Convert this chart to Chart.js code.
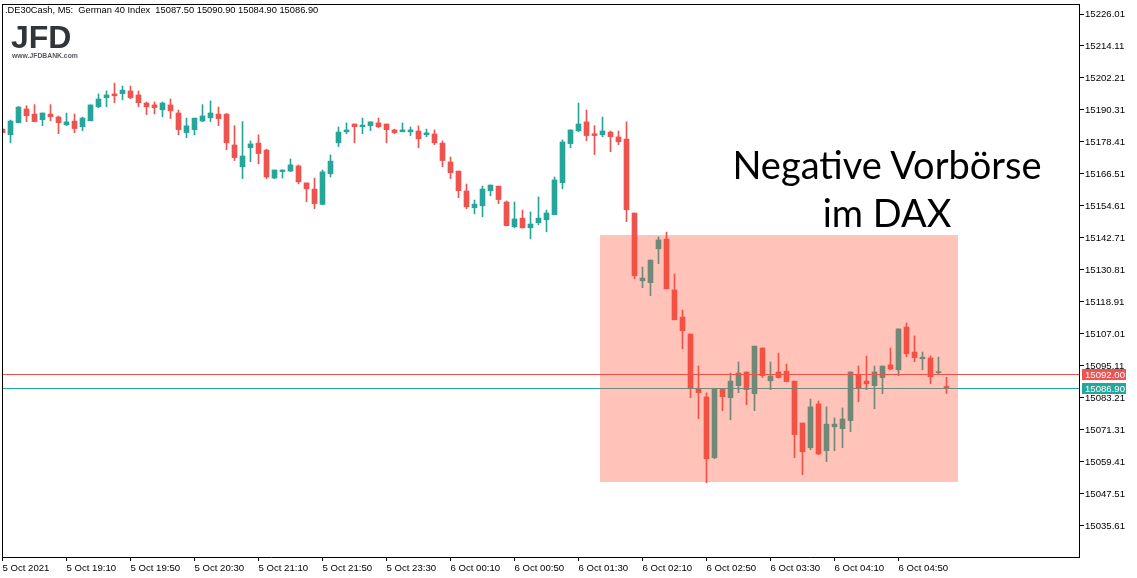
<!DOCTYPE html>
<html>
<head>
<meta charset="utf-8">
<script src="https://cdn.jsdelivr.net/npm/chart.js@4.4.1/dist/chart.umd.min.js"></script>
<style>
html,body{margin:0;padding:0;background:#fff;}
#wrap{position:relative;width:1137px;height:578px;overflow:hidden;background:#fff;}
#c{position:absolute;left:0;top:0;}
.t{position:absolute;white-space:pre;}
#title{left:5px;top:4px;font:9.3px "Liberation Sans",Arial,sans-serif;line-height:12px;color:#000;}
#logo{left:11px;top:21px;font:bold 32px "Liberation Sans",Arial,sans-serif;line-height:32px;color:#30353a;}
#logourl{left:12px;top:52px;font:bold 6.8px "Liberation Sans",Arial,sans-serif;line-height:7px;color:#55595e;}
#note{left:700px;top:140px;width:374px;text-align:center;font:38px Lato,"Noto Sans",sans-serif;line-height:48px;color:#000;white-space:pre;}
</style>
</head>
<body>
<div id="wrap">
<canvas id="c" width="1137" height="578"></canvas>
<div class="t" id="title">.DE30Cash, M5:  German 40 Index  15087.50 15090.90 15084.90 15086.90</div>
<div class="t" id="logo">JFD</div>
<div class="t" id="logourl">www.JFDBANK.com</div>
<div class="t" id="note">Negative Vorbörse
im DAX</div>
</div>
<script>
// ---- data (5-minute candles, German 40 Index) ----
const open = [15183.2,15181.1,15185.6,15190.7,15188.8,15186.7,15188.8,15187.7,15184.8,15186.2,
15184.1,15186.3,15191.5,15194.9,15196.3,15196.4,15197.4,15195.9,15192.9,15192.2,
15190.4,15192.2,15189.2,15181.9,15183.0,15186.2,15187.4,15188.8,15188.8,15177.3,
15169.2,15176.3,15178.0,15175.4,15165.0,15167.4,15167.6,15169.5,15163.2,15160.9,
15155.2,15166.6,15178.1,15182.2,15185.1,15184.1,15184.5,15185.5,15185.1,15182.9,
15182.2,15182.2,15182.5,15181.1,15181.4,15178.0,15171.0,15167.6,15160.2,15154.0,
15154.7,15160.3,15162.0,15156.1,15146.9,15150.1,15146.5,15148.4,15149.5,15151.4,
15163.3,15177.8,15182.6,15185.9,15181.5,15181.1,15182.1,15180.3,15179.5,15152.0,
15126.8,15126.1,15138.7,15142.3,15123.4,15113.3,15107.0,15086.7,15083.6,15061.0,
15086.7,15083.3,15087.8,15092.9,15084.8,15101.8,15089.6,15092.9,15093.2,15089.5,
15073.9,15064.7,15081.0,15063.6,15072.5,15071.8,15074.8,15091.9,15089.5,15087.8,
15090.8,15095.5,15093.7,15109.6,15100.3,15097.8,15098.1,15092.6,15087.5];

const high = [15183.4,15186.6,15191.6,15191.9,15192.3,15189.2,15192.3,15188.1,15189.2,15188.8,
15187.7,15192.2,15196.3,15197.4,15200.3,15199.2,15199.2,15197.4,15193.3,15193.3,
15193.3,15194.4,15190.3,15187.3,15187.3,15192.3,15193.7,15191.4,15189.0,15184.5,
15186.0,15178.8,15181.1,15175.8,15168.0,15168.0,15172.1,15169.9,15163.2,15165.0,
15168.0,15173.6,15184.0,15185.5,15185.1,15187.3,15185.9,15187.3,15185.1,15183.2,
15185.5,15184.0,15184.4,15183.2,15182.9,15178.8,15172.8,15167.6,15162.8,15156.8,
15162.0,15162.4,15162.0,15156.5,15156.1,15153.1,15152.4,15158.0,15153.1,15165.4,
15179.2,15182.9,15192.9,15190.3,15184.5,15187.7,15182.5,15182.5,15185.9,15152.0,
15131.9,15134.5,15143.1,15144.9,15129.3,15115.9,15107.0,15095.1,15085.1,15086.7,
15086.7,15092.5,15096.6,15092.9,15102.5,15101.8,15096.6,15099.9,15095.8,15089.5,
15073.9,15082.8,15082.1,15079.9,15075.8,15079.5,15092.9,15095.1,15098.8,15095.1,
15095.1,15101.8,15108.9,15111.1,15106.3,15100.3,15098.8,15098.4,15090.9];

const low = [15181.7,15178.1,15185.5,15186.0,15185.9,15184.5,15186.3,15181.5,15184.5,15181.9,
15182.6,15186.3,15191.2,15191.5,15193.0,15194.1,15194.5,15191.5,15188.6,15188.9,
15187.8,15187.1,15181.1,15180.0,15181.1,15186.0,15186.0,15184.5,15175.5,15171.5,
15164.8,15171.1,15170.3,15164.8,15164.8,15165.0,15167.4,15162.9,15156.2,15153.6,
15155.0,15165.4,15176.7,15181.5,15178.1,15181.5,15182.6,15183.7,15178.1,15181.5,
15182.2,15180.8,15176.3,15180.4,15177.4,15169.2,15164.8,15157.7,15153.6,15151.7,
15150.6,15158.4,15155.5,15147.2,15146.5,15146.4,15142.4,15147.6,15145.0,15151.3,
15161.0,15176.3,15182.2,15178.9,15173.7,15180.4,15174.8,15177.4,15148.8,15127.6,
15124.2,15121.3,15133.2,15123.8,15112.3,15101.5,15083.3,15075.5,15051.7,15060.6,
15078.5,15075.1,15085.2,15080.7,15078.5,15090.8,15086.3,15090.6,15089.2,15061.0,
15054.7,15064.0,15062.1,15059.5,15063.6,15064.7,15070.7,15081.8,15086.3,15079.2,
15084.8,15093.7,15091.5,15098.6,15096.7,15093.7,15088.5,15092.2,15084.9];

const close = [15181.9,15186.2,15191.4,15188.2,15186.0,15189.2,15187.8,15185.6,15185.9,15183.4,
15187.3,15192.2,15194.4,15195.9,15195.6,15197.7,15194.9,15193.0,15191.5,15191.2,
15192.9,15190.0,15183.0,15184.4,15187.3,15188.1,15189.2,15187.1,15178.1,15172.6,
15173.2,15177.7,15174.1,15165.4,15168.0,15168.0,15169.9,15163.6,15161.0,15155.5,
15167.3,15171.3,15182.1,15182.9,15184.1,15184.7,15185.9,15184.1,15183.0,15181.9,
15182.9,15182.9,15179.6,15181.8,15178.1,15171.5,15167.0,15160.3,15154.3,15155.3,
15160.9,15162.4,15157.0,15147.3,15149.8,15146.5,15147.9,15150.1,15152.0,15164.3,
15178.4,15182.9,15185.1,15180.8,15180.8,15182.5,15180.4,15178.5,15153.2,15128.7,
15127.8,15134.5,15142.0,15123.8,15112.3,15108.2,15087.0,15085.2,15060.6,15086.7,
15083.7,15089.5,15092.5,15086.3,15102.5,15091.5,15091.4,15090.8,15089.3,15069.6,
15063.2,15079.9,15062.4,15073.5,15073.5,15075.4,15092.9,15086.9,15088.5,15092.9,
15095.1,15094.0,15108.9,15099.7,15098.2,15098.4,15091.1,15093.0,15086.9];

const tickBars = [0, 8, 16, 24, 32, 40, 48, 56, 64, 72, 80, 88, 96, 104, 112];
const tickLabels = ["5 Oct 2021","5 Oct 19:10","5 Oct 19:50","5 Oct 20:30","5 Oct 21:10",
  "5 Oct 21:50","5 Oct 23:30","6 Oct 00:10","6 Oct 00:50","6 Oct 01:30","6 Oct 02:10",
  "6 Oct 02:50","6 Oct 03:30","6 Oct 04:10","6 Oct 04:50"];
const yTicks = [15226.01,15214.11,15202.21,15190.31,15178.41,15166.51,15154.61,15142.71,
  15130.81,15118.91,15107.01,15095.11,15083.21,15071.31,15059.41,15047.51,15035.61];
const priceLevels = [15092.00, 15086.90];          // ask / bid lines
const zoneBars = [74.69, 119.375];                 // highlighted zone, bar index range
const zonePrices = [15143.8, 15052.0];             // highlighted zone, price range

// ---- styles ----
const UP = '#26a69a', DOWN = '#ef5350';
const LEVEL_COLORS = ['#ef5350', '#26a69a'];
const ZONE_FILL = 'rgba(255, 80, 50, 0.34)';
const AXIS_FONT = {family: '"Liberation Sans", Arial, sans-serif', size: 9.6};

const idx = open.map((_, i) => i);
const colors = idx.map(i => close[i] >= open[i] ? UP : DOWN);
const wicks = idx.map(i => ({x: i, y: [low[i], high[i]]}));
const bodies = idx.map(i => ({x: i, y: [open[i], close[i]]}));

const mt5Plugin = {
  id: 'mt5',
  afterDatasetsDraw(chart) {
    const {ctx, chartArea: a, scales: {x, y}} = chart;
    ctx.save();
    ctx.beginPath();
    ctx.rect(a.left, a.top, a.right - a.left, a.bottom - a.top);
    ctx.clip();
    priceLevels.forEach((v, k) => {
      const py = Math.floor(y.getPixelForValue(v));
      ctx.fillStyle = LEVEL_COLORS[k];
      ctx.fillRect(a.left, py, a.right - a.left, 1);
    });
    const x0 = Math.round(x.getPixelForValue(zoneBars[0]));
    const x1 = Math.round(x.getPixelForValue(zoneBars[1]));
    const y0 = Math.round(y.getPixelForValue(zonePrices[0]));
    const y1 = Math.round(y.getPixelForValue(zonePrices[1]));
    ctx.fillStyle = ZONE_FILL;
    ctx.fillRect(x0, y0, x1 - x0, y1 - y0);
    ctx.restore();
  },
  afterDraw(chart) {
    const {ctx, chartArea: a, scales: {y}} = chart;
    ctx.save();
    ctx.fillStyle = '#000';
    ctx.fillRect(a.left, a.top, a.right - a.left + 1, 1);
    ctx.fillRect(a.left, a.top, 1, a.bottom - a.top + 1);
    ctx.font = '9.6px "Liberation Sans", Arial, sans-serif';
    ctx.textBaseline = 'middle';
    priceLevels.forEach((v, k) => {
      const py = Math.floor(y.getPixelForValue(v));
      ctx.fillStyle = LEVEL_COLORS[k];
      ctx.fillRect(a.right + 3, py - 5, 44, 11);
      ctx.fillStyle = '#fff';
      ctx.fillText(v.toFixed(2), a.right + 6, py + 1);
    });
    ctx.restore();
  }
};

new Chart(document.getElementById('c'), {
  type: 'bar',
  data: {
    datasets: [
      {data: wicks, backgroundColor: colors, barThickness: 1, grouped: false, borderWidth: 0, order: 2},
      {data: bodies, backgroundColor: colors, barThickness: 5, grouped: false, borderWidth: 0, minBarLength: 1, order: 1}
    ]
  },
  options: {
    responsive: false,
    animation: false,
    devicePixelRatio: 1,
    layout: {padding: {left: 2, top: 4, right: 0, bottom: 0}, autoPadding: false},
    plugins: {legend: {display: false}, tooltip: {enabled: false}, title: {display: false}},
    scales: {
      x: {
        type: 'linear', offset: false, min: -0.0625, max: 134.5625, bounds: 'data',
        grid: {offset: false, drawOnChartArea: false, drawTicks: true, tickLength: 4, color: '#000', lineWidth: 1},
        border: {display: true, color: '#000', width: 1},
        ticks: {autoSkip: false, maxRotation: 0, minRotation: 0, align: 'start', padding: 2, color: '#000', font: AXIS_FONT,
          callback: (v, i) => tickLabels[i]},
        afterBuildTicks: s => { s.ticks = tickBars.map(v => ({value: v})); },
        afterFit: s => { s.height = 21; s.paddingLeft = 0; s.paddingRight = 0; }
      },
      y: {
        type: 'linear', position: 'right', min: 15024.076, max: 15229.729, beginAtZero: false, bounds: 'data',
        grid: {drawOnChartArea: false, drawTicks: true, tickLength: 5, color: '#000', lineWidth: 1},
        border: {display: true, color: '#000', width: 1},
        ticks: {autoSkip: false, padding: 1, color: '#000', font: AXIS_FONT, callback: v => Number(v).toFixed(2)},
        afterBuildTicks: s => { s.ticks = yTicks.map(v => ({value: v})); },
        afterFit: s => { s.width = 58; s.paddingTop = 0; s.paddingBottom = 0; }
      }
    }
  },
  plugins: [mt5Plugin]
});
</script>
</body>
</html>
